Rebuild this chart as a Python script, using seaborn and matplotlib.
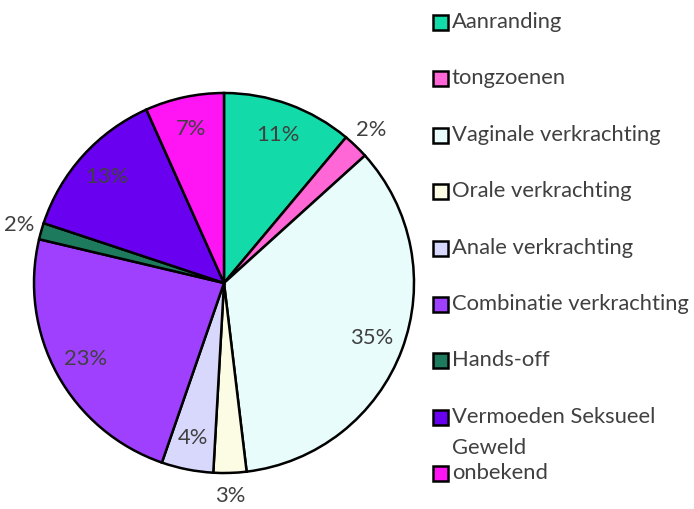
import matplotlib
matplotlib.use('Agg')
import matplotlib.pyplot as plt
import seaborn as sns
from matplotlib.patches import Rectangle
import numpy as np

# categorieen en aandelen (geschat uit de figuur)
categorieen = ['Aanranding', 'tongzoenen', 'Vaginale verkrachting', 'Orale verkrachting',
               'Anale verkrachting', 'Combinatie verkrachting', 'Hands-off',
               'Vermoeden Seksueel\nGeweld', 'onbekend']
aandelen = [11.1, 2.2, 34.8, 2.8, 4.4, 23.4, 1.4, 13.2, 6.7]
labels_pct = ['11%', '2%', '35%', '3%', '4%', '23%', '2%', '13%', '7%']
kleuren = ['#12DAA8', '#FF66D6', '#E8FCFC', '#FCFCE4', '#D8D8FC',
           '#A040FF', '#1E7A5C', '#6A00F0', '#FF14F4']

sns.set_theme(style='white')
plt.rcParams['font.family'] = ['Lato', 'DejaVu Sans']
tekstkleur = '#404040'
fs = 15.8

W, H = 694, 509
fig = plt.figure(figsize=(W / 100, H / 100), dpi=100)

# pie: centrum (224, 283) px, straal 190 px
cx, cy, r = 224, 283, 190
ax = fig.add_axes([(cx - r) / W, (H - cy - r) / H, 2 * r / W, 2 * r / H])
palet = sns.color_palette(kleuren)
wedges, _ = ax.pie(aandelen, colors=palet, startangle=90, counterclock=False,
                   wedgeprops=dict(edgecolor='black', linewidth=1.8))
ax.set_xlim(-1, 1)
ax.set_ylim(-1, 1)
ax.set_aspect('equal')
ax.axis('off')

# percentages: kleine stukken buiten de cirkel
for w, lab, val in zip(wedges, labels_pct, aandelen):
    hoek = np.deg2rad((w.theta1 + w.theta2) / 2)
    afstand = 1.12 if val < 3.5 else 0.83
    ax.text(afstand * np.cos(hoek), afstand * np.sin(hoek), lab,
            ha='center', va='center', fontsize=fs, color=tekstkleur, clip_on=False)

# legenda handmatig, vaste afstand per item
stap = 56.4
for i, (naam, kleur) in enumerate(zip(categorieen, palet)):
    ymid = 22.5 + stap * i
    fig.patches.append(Rectangle((433 / W, 1 - (ymid + 7.5) / H), 15 / W, 15 / H,
                                 transform=fig.transFigure, facecolor=kleur,
                                 edgecolor='black', linewidth=1.8))
    fig.text(452 / W, 1 - (12.0 + stap * i) / H, naam, ha='left', va='top',
             fontsize=fs, color=tekstkleur, linespacing=1.7)

fig.savefig('out.png', dpi=100)
